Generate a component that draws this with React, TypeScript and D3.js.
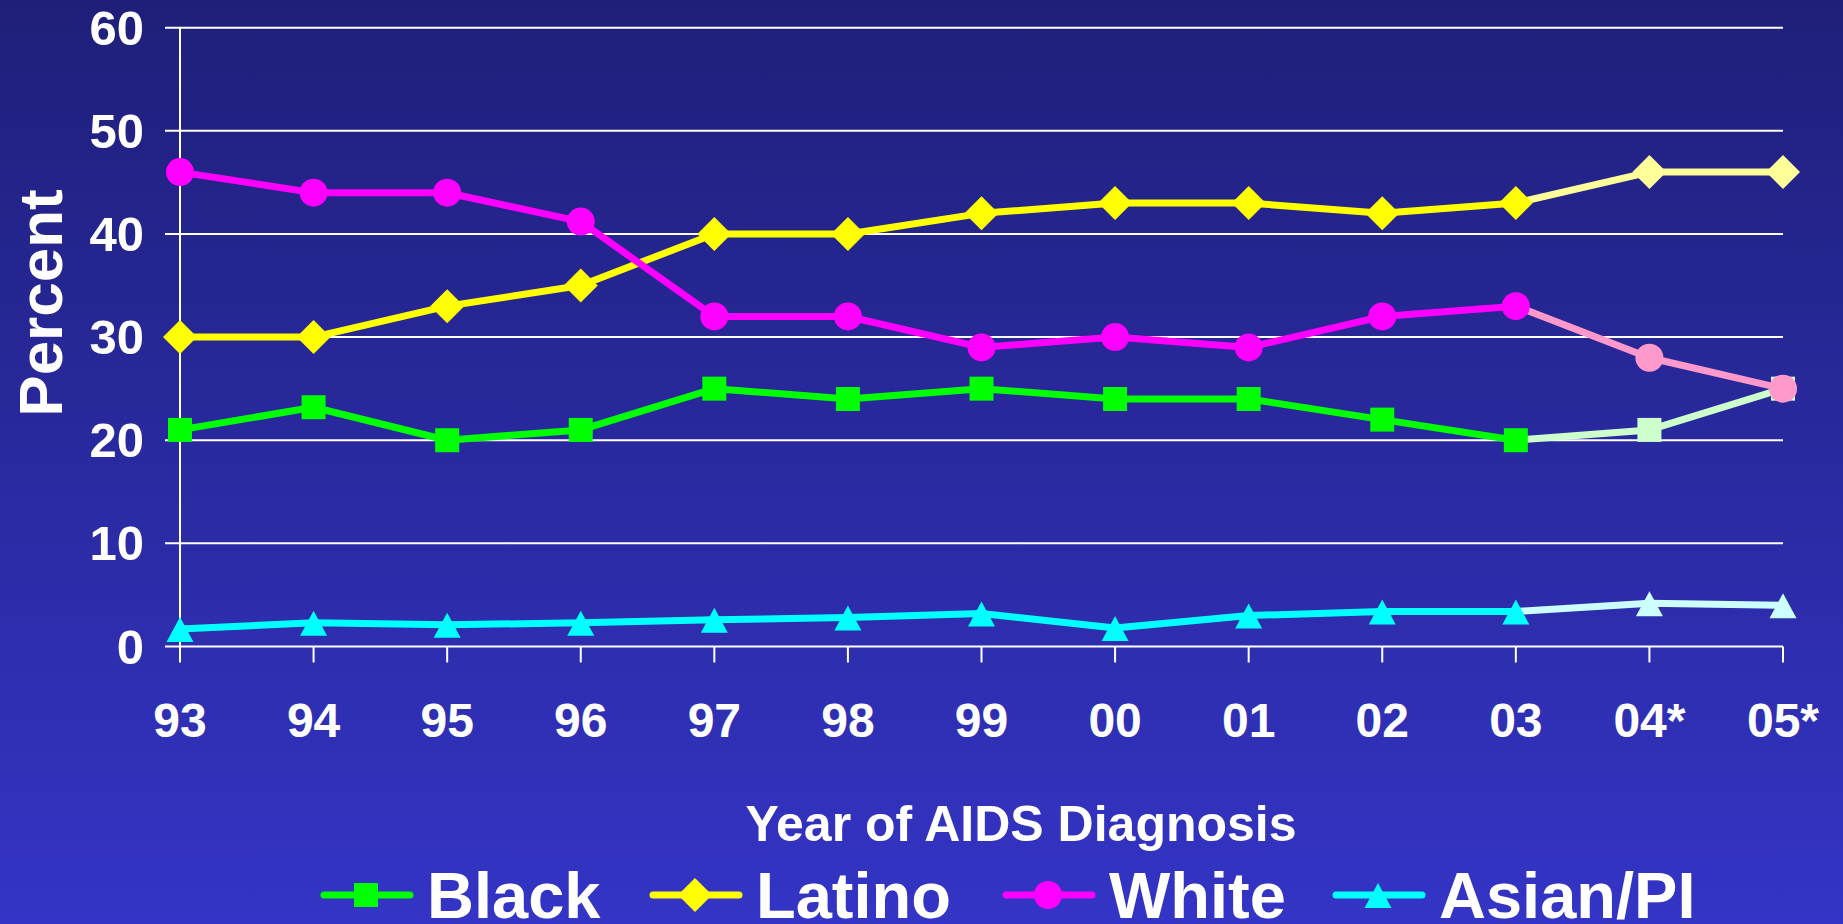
import React, { useEffect } from "react";
import * as d3 from "d3";

const YEARS = ["93", "94", "95", "96", "97", "98", "99", "00", "01", "02", "03", "04*", "05*"];
const Y_TICKS = [0, 10, 20, 30, 40, 50, 60];
const BLACK = [21, 23.2, 20, 21, 25, 24, 25, 24, 24, 22, 20, 21, 25];
const LATINO = [30, 30, 33, 35, 40, 40, 42, 43, 43, 42, 43, 46, 46];
const WHITE = [46, 44, 44, 41.2, 32, 32, 29, 30, 29, 32, 33, 28, 25];
const ASIAN = [1.7, 2.3, 2.1, 2.3, 2.6, 2.8, 3.2, 1.8, 3.0, 3.4, 3.4, 4.2, 4.0];
const SERIES_NAMES = ["Black", "Latino", "White", "Asian/PI"];
const PROJECTED_FROM = 10; // index of "03": later years are estimates

const W = 1843;
const H = 924;
const FONT = "'Liberation Sans', Arial, Helvetica, sans-serif";

type Shape = "square" | "diamond" | "circle" | "triangle";
const STYLES: { color: string; light: string; shape: Shape }[] = [
  { color: "#00FF00", light: "#CCFFCC", shape: "square" },
  { color: "#FFFF00", light: "#FFFF99", shape: "diamond" },
  { color: "#FF00FF", light: "#FF99CC", shape: "circle" },
  { color: "#00FFFF", light: "#CCFFFF", shape: "triangle" },
];
const LEGEND_X = [324, 653, 1006, 1336];

function markerPath(shape: Shape): string {
  const p = d3.path();
  if (shape === "square") {
    p.rect(-12, -12, 24, 24);
  } else if (shape === "diamond") {
    p.moveTo(0, -17);
    p.lineTo(17, 0);
    p.lineTo(0, 17);
    p.lineTo(-17, 0);
    p.closePath();
  } else if (shape === "circle") {
    p.arc(0, 0, 14, 0, Math.PI * 2);
    p.closePath();
  } else {
    p.moveTo(0, -12);
    p.lineTo(13.5, 13);
    p.lineTo(-13.5, 13);
    p.closePath();
  }
  return p.toString();
}

export default function App() {
  useEffect(() => {
    document.body.style.margin = "0";
  }, []);

  const data = [BLACK, LATINO, WHITE, ASIAN];
  const x = d3.scalePoint<string>().domain(YEARS).range([180, 1783]).padding(0);
  const y = d3.scaleLinear().domain([0, 60]).range([646.5, 27.7]);
  const line = d3
    .line<[string, number]>()
    .x((d) => x(d[0]) as number)
    .y((d) => y(d[1]));

  return (
    <svg width={W} height={H} style={{ display: "block" }} fontFamily={FONT}>
      <defs>
        <linearGradient id="bg" x1="0" y1="0" x2="0" y2="1">
          <stop offset="0" stopColor="#1F1F7A" />
          <stop offset="1" stopColor="#3434C6" />
        </linearGradient>
      </defs>
      <rect x={0} y={0} width={W} height={H} fill="url(#bg)" />

      {/* gridlines */}
      {Y_TICKS.map((t) => (
        <line key={"g" + t} x1={165} x2={1783} y1={y(t)} y2={y(t)} stroke="#FFFFFF" strokeWidth={2} />
      ))}
      {/* y axis */}
      <line x1={180} x2={180} y1={y(60)} y2={y(0)} stroke="#FFFFFF" strokeWidth={2} />
      {/* x ticks */}
      {YEARS.map((yr) => (
        <line key={"t" + yr} x1={x(yr)} x2={x(yr)} y1={y(0)} y2={y(0) + 16} stroke="#FFFFFF" strokeWidth={2} />
      ))}
      {/* y tick labels */}
      {Y_TICKS.map((t) => (
        <text
          key={"yl" + t}
          x={144}
          y={y(t) + 17}
          textAnchor="end"
          fill="#FFFFFF"
          fontWeight="bold"
          fontSize={49}
        >
          {t}
        </text>
      ))}
      {/* x tick labels */}
      {YEARS.map((yr) => (
        <text
          key={"xl" + yr}
          x={x(yr)}
          y={737}
          textAnchor="middle"
          fill="#FFFFFF"
          fontWeight="bold"
          fontSize={48}
        >
          {yr}
        </text>
      ))}
      {/* axis titles */}
      <text
        transform="translate(62,303) rotate(-90)"
        textAnchor="middle"
        fill="#FFFFFF"
        fontWeight="bold"
        fontSize={62}
      >
        Percent
      </text>
      <text x={1021} y={841} textAnchor="middle" fill="#FFFFFF" fontWeight="bold" fontSize={50}>
        Year of AIDS Diagnosis
      </text>

      {/* series */}
      {data.map((vals, si) => {
        const st = STYLES[si];
        const pts: [string, number][] = YEARS.map((yr, i) => [yr, vals[i]]);
        const actual = pts.slice(0, PROJECTED_FROM + 1);
        const projected = pts.slice(PROJECTED_FROM);
        const mp = markerPath(st.shape);
        return (
          <g key={"s" + si}>
            <path d={line(actual) || ""} fill="none" stroke={st.color} strokeWidth={7} strokeLinejoin="round" />
            <path d={line(projected) || ""} fill="none" stroke={st.light} strokeWidth={7} strokeLinejoin="round" />
            {pts.map((p, i) => (
              <path
                key={i}
                d={mp}
                transform={`translate(${x(p[0])},${y(p[1])})`}
                fill={i > PROJECTED_FROM ? st.light : st.color}
              />
            ))}
          </g>
        );
      })}

      {/* legend */}
      {SERIES_NAMES.map((name, si) => {
        const st = STYLES[si];
        const lx = LEGEND_X[si];
        const ly = 895;
        return (
          <g key={"lg" + si}>
            <line x1={lx} x2={lx + 86} y1={ly} y2={ly} stroke={st.color} strokeWidth={7} strokeLinecap="round" />
            <path d={markerPath(st.shape)} transform={`translate(${lx + 42},${ly})`} fill={st.color} />
            <text x={lx + 103} y={918} fill="#FFFFFF" fontWeight="bold" fontSize={65}>
              {name}
            </text>
          </g>
        );
      })}
    </svg>
  );
}
